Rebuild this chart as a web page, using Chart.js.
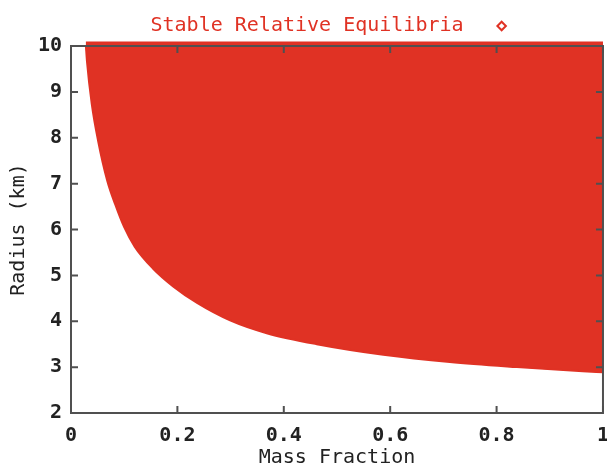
<!DOCTYPE html>
<html>
<head>
<meta charset="utf-8">
<script src="https://cdn.jsdelivr.net/npm/chart.js@4/dist/chart.umd.min.js"></script>
<style>
  html, body { margin: 0; padding: 0; background: #fff; }
  #wrap { width: 607px; height: 470px; overflow: hidden; }
</style>
</head>
<body>
<div id="wrap"><canvas id="chart" width="620" height="470"></canvas></div>
<script>
// Boundary of the stable region
const massFraction = [0.028, 0.030, 0.039, 0.051, 0.068, 0.083, 0.100, 0.120, 0.154, 0.192, 0.237, 0.299, 0.368, 0.462, 0.587, 0.712, 0.838, 0.962, 1.0];
const radiusKm     = [10.0, 9.67, 8.74, 7.93, 7.07, 6.55, 6.05, 5.62, 5.15, 4.76, 4.40, 4.02, 3.74, 3.50, 3.27, 3.11, 3.00, 2.91, 2.89];

const seriesLabel = 'Stable Relative Equilibria';
const xTitle = 'Mass Fraction';
const yTitle = 'Radius (km)';
const xTicks = [0, 0.2, 0.4, 0.6, 0.8, 1];
const yTicks = [2, 3, 4, 5, 6, 7, 8, 9, 10];

const RED = 'rgb(224, 50, 36)';
const FONT = "'DejaVu Sans Mono', monospace";

const boundary = massFraction.map((m, i) => ({ x: m, y: radiusKm[i] }));
// red band that spills over the top edge of the frame
const topEdge = [{ x: massFraction[0], y: 10 }, { x: 1, y: 10 }];

// frame on all four sides, with gnuplot style ticks pointing inwards
const insideTicks = {
  id: 'insideTicks',
  afterDatasetsDraw(chart) {
    const { ctx, chartArea: a, scales: { x, y } } = chart;
    ctx.save();
    ctx.strokeStyle = '#505050';
    ctx.lineWidth = 2;
    ctx.strokeRect(a.left, a.top, a.right - a.left, a.bottom - a.top);
    ctx.beginPath();
    x.ticks.forEach(t => {
      const px = x.getPixelForValue(t.value);
      ctx.moveTo(px, a.bottom); ctx.lineTo(px, a.bottom - 7);
      ctx.moveTo(px, a.top); ctx.lineTo(px, a.top + 7);
    });
    y.ticks.forEach(t => {
      const py = y.getPixelForValue(t.value);
      ctx.moveTo(a.left, py); ctx.lineTo(a.left + 7, py);
      ctx.moveTo(a.right, py); ctx.lineTo(a.right - 7, py);
    });
    ctx.stroke();
    ctx.restore();
  }
};

new Chart(document.getElementById('chart'), {
  type: 'scatter',
  data: {
    datasets: [
      {
        label: seriesLabel,
        data: boundary,
        showLine: true,
        cubicInterpolationMode: 'monotone',
        pointRadius: 0,
        borderColor: RED,
        borderWidth: 2,
        backgroundColor: RED,
        fill: 'end'
      },
      {
        label: 'edge',
        data: topEdge,
        showLine: true,
        pointRadius: 0,
        borderColor: RED,
        borderWidth: 9,
        fill: false,
        clip: false
      }
    ]
  },
  options: {
    responsive: false,
    animation: false,
    devicePixelRatio: 1,
    layout: { padding: { top: 5, right: 0, left: 0, bottom: 0 } },
    plugins: {
      tooltip: { enabled: false },
      legend: {
        rtl: true,
        textDirection: 'ltr',
        labels: {
          color: RED,
          font: { family: FONT, size: 20 },
          usePointStyle: true,
          boxWidth: 8,
          boxHeight: 6,
          padding: 11,
          generateLabels: chart => [{
            text: '   ' + seriesLabel + '  ',
            datasetIndex: 0,
            pointStyle: 'rectRot',
            fillStyle: 'rgba(0,0,0,0)',
            strokeStyle: RED,
            lineWidth: 2,
            fontColor: RED
          }]
        }
      }
    },
    scales: {
      x: {
        type: 'linear',
        min: 0,
        max: 1,
        afterBuildTicks: s => { s.ticks = xTicks.map(v => ({ value: v })); },
        afterFit: s => { s.height = 57; },
        grid: { display: false, drawTicks: false },
        border: { display: false },
        ticks: {
          color: '#222',
          font: { family: FONT, size: 20, weight: 'bold' },
          padding: 11,
          maxRotation: 0,
          callback: v => String(v)
        },
        title: {
          display: true,
          text: xTitle,
          color: '#222',
          font: { family: FONT, size: 20 },
          padding: { top: 0, bottom: 0 }
        }
      },
      y: {
        type: 'linear',
        min: 2,
        max: 10,
        afterBuildTicks: s => { s.ticks = yTicks.map(v => ({ value: v })); },
        afterFit: s => { s.width = 71; },
        grid: { display: false, drawTicks: false },
        border: { display: false },
        ticks: {
          color: '#222',
          font: { family: FONT, size: 20, weight: 'bold' },
          padding: 9
        },
        title: {
          display: true,
          text: yTitle,
          color: '#222',
          font: { family: FONT, size: 20 },
          padding: { top: 7, bottom: 0 }
        }
      }
    }
  },
  plugins: [insideTicks]
});
</script>
</body>
</html>
